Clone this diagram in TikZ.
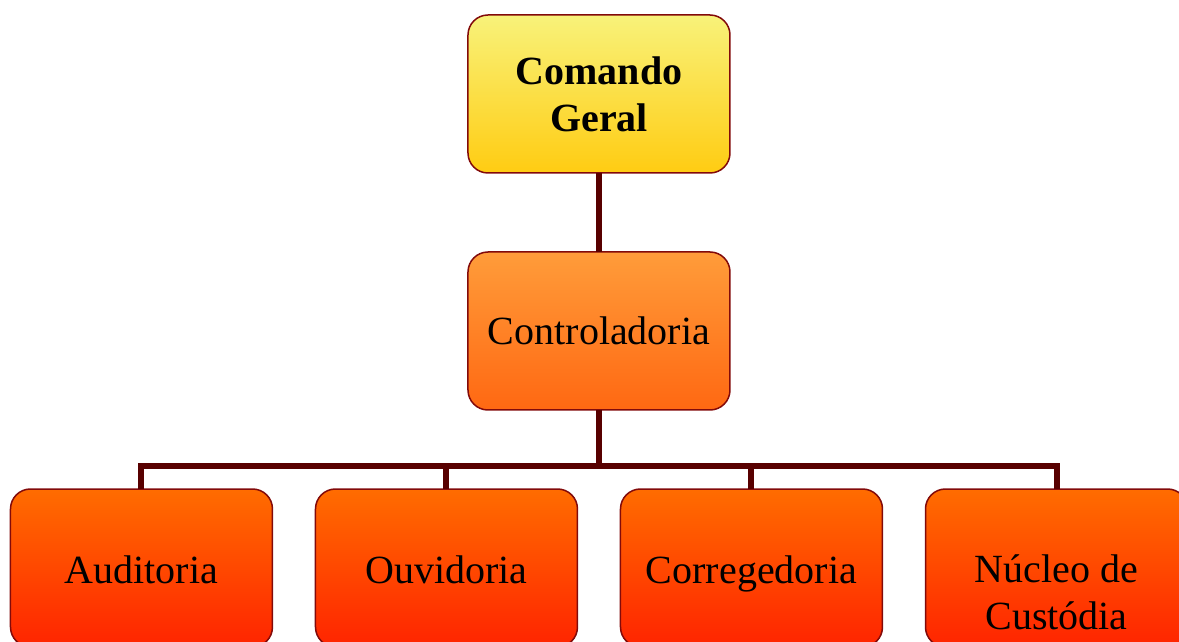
\documentclass[tikz,border=0pt]{standalone}
\usepackage{fontspec}
\setmainfont{Liberation Serif}
\usepackage{xcolor}
\usepackage{tikz}
\usetikzlibrary{positioning}

\definecolor{cmdtop}{RGB}{248,242,122}
\definecolor{cmdbot}{RGB}{255,204,18}
\definecolor{ctrltop}{RGB}{255,156,58}
\definecolor{ctrlbot}{RGB}{255,104,18}
\definecolor{unittop}{RGB}{255,108,0}
\definecolor{unitbot}{RGB}{255,36,0}
\definecolor{boxline}{RGB}{130,10,10}
\definecolor{connline}{RGB}{88,0,0}

\begin{document}
\begin{tikzpicture}
        [node distance=39.5pt,
          every node/.style={rectangle,rounded corners=10pt,draw=boxline,line width=0.75pt,
            minimum width=131pt,minimum height=79pt,outer sep=0pt,align=center,
            font=\fontsize{20}{23.5}\selectfont},
          cmdbox/.style={top color=cmdtop,bottom color=cmdbot},
          ctrlbox/.style={top color=ctrltop,bottom color=ctrlbot},
          unitbox/.style={top color=unittop,bottom color=unitbot,text height=15pt,text depth=0pt},
          plaintext/.style={draw=none,fill=none,minimum width=0pt,minimum height=0pt},
          conn/.style={draw=connline,line width=3pt}]
        \useasboundingbox (-299.5pt,47pt) rectangle ++(589.5pt,-321pt);
        \node[cmdbox] (cmd) at (0,0) {\textbf{Comando}\\\textbf{Geral}};
        \node[ctrlbox] (ctrl) [below=of cmd] {Controladoria};
        \node[unitbox] (ouv) [below=of ctrl,xshift=-76.25pt] {Ouvidoria};
        \node[unitbox] (audit) [left=21.5pt of ouv] {Auditoria};
        \node[unitbox] (corr) [right=21.5pt of ouv] {Corregedoria};
        \node[unitbox] (nucleo) [right=21.5pt of corr] {};
        \node[plaintext] (nucleotxt) at ([yshift=-12pt]nucleo.center) {Núcleo de\\Custódia};
        \coordinate (bus) at ([yshift=-28pt]ctrl.south);
        \draw[conn] (cmd) -- (ctrl);
        \draw[conn] (ctrl) -- (bus);
        \foreach \to in {audit,ouv,corr,nucleo}
        \draw[conn] (bus) -| (\to);
      \end{tikzpicture}
\end{document}
